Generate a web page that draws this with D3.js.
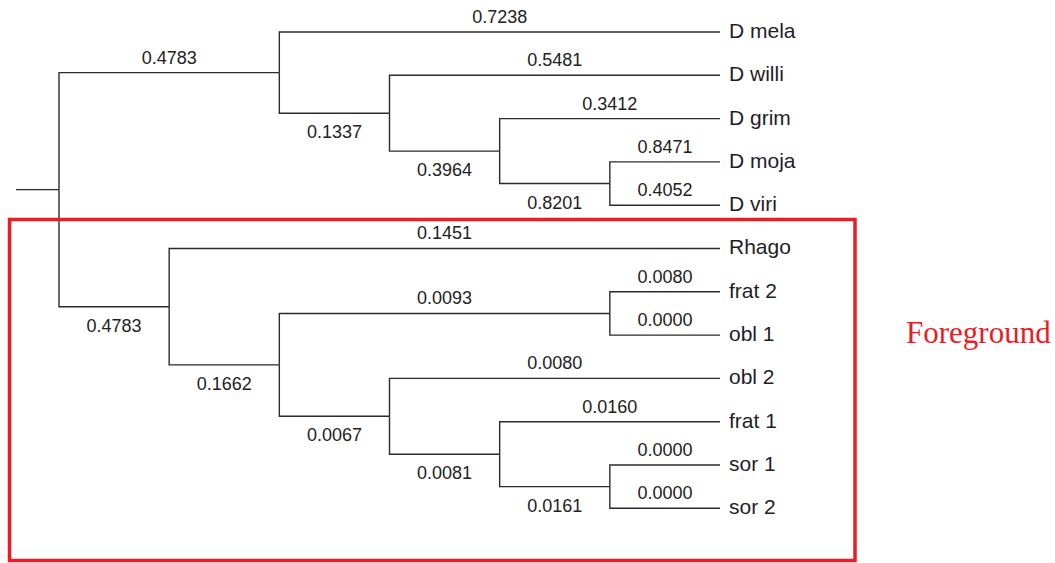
<!DOCTYPE html>
<html>
<head>
<meta charset="utf-8">
<script src="https://cdn.jsdelivr.net/npm/d3@7"></script>
<style>
  html, body { margin: 0; padding: 0; background: #fff; }
  svg { display: block; }
</style>
</head>
<body>
<svg id="tree" width="1055" height="563"></svg>
<script>
  // tree as a parent table, listed in draw order (top child first)
  const nodeIds = ["n0", "n1", "D mela", "n2", "D willi", "n3", "D grim", "n4", "D moja", "D viri",
    "n5", "Rhago", "n6", "n7", "frat 2", "obl 1", "n8", "obl 2", "n9", "frat 1", "n10", "sor 1", "sor 2"];
  const parentIds = ["", "n0", "n1", "n1", "n2", "n2", "n3", "n3", "n4", "n4",
    "n0", "n5", "n5", "n6", "n7", "n7", "n6", "n8", "n8", "n9", "n9", "n10", "n10"];
  const branchLabels = ["", "0.4783", "0.7238", "0.1337", "0.5481", "0.3964", "0.3412", "0.8201", "0.8471", "0.4052",
    "0.4783", "0.1451", "0.1662", "0.0093", "0.0080", "0.0000", "0.0067", "0.0080", "0.0081", "0.0160", "0.0161", "0.0000", "0.0000"];
  const boxTitle = "Foreground";

  const svg = d3.select("#tree");
  const lineColor = "#2b2b2b";

  const table = nodeIds.map((id, i) => ({ id: id, parent: parentIds[i] || null, label: branchLabels[i] }));
  const root = d3.stratify().id(d => d.id).parentId(d => d.parent)(table);

  // leaves share one column; internal nodes step left by height
  // cluster pads half a step at each end, so shift up by half a step
  const leafTop = 32, leafStep = 43.3;
  const rootX = 59, leafX = 720;
  const nLeaves = root.leaves().length;
  d3.cluster()
    .size([leafStep * nLeaves, leafX - rootX])
    .separation(() => 1)(root);

  const g = svg.append("g").attr("transform", `translate(${rootX},${leafTop - leafStep / 2})`);

  // root stub
  g.append("line")
    .attr("x1", -43).attr("x2", 0)
    .attr("y1", root.x).attr("y2", root.x)
    .attr("stroke", lineColor).attr("stroke-width", 1.4);

  // elbow links
  g.append("g").selectAll("path")
    .data(root.descendants().filter(d => d.parent))
    .join("path")
    .attr("fill", "none")
    .attr("stroke", lineColor).attr("stroke-width", 1.4)
    .attr("d", d => `M${d.parent.y},${d.parent.x}V${d.x}H${d.y}`);

  // branch length labels: below the line for a lower internal child, else above
  g.append("g").selectAll("text")
    .data(root.descendants().filter(d => d.parent))
    .join("text")
    .attr("x", d => (d.parent.y + d.y) / 2)
    .attr("y", d => {
      const lower = d.children && d.parent.children[d.parent.children.length - 1] === d;
      return lower ? d.x + 25 : d.x - 9;
    })
    .attr("text-anchor", "middle")
    .attr("font-family", "Liberation Sans, Arial, sans-serif")
    .attr("font-size", 18)
    .attr("fill", "#222")
    .text(d => d.data.label);

  // leaf names
  g.append("g").selectAll("text")
    .data(root.leaves())
    .join("text")
    .attr("x", d => d.y + 9)
    .attr("y", d => d.x + 6)
    .attr("font-family", "Liberation Sans, Arial, sans-serif")
    .attr("font-size", 21)
    .attr("fill", "#1e1e28")
    .text(d => d.id);

  // highlight box around the lower clade
  svg.append("rect")
    .attr("x", 9.5).attr("y", 219.5)
    .attr("width", 845.5).attr("height", 341)
    .attr("fill", "none")
    .attr("stroke", "#ec1c24").attr("stroke-width", 3.5);

  svg.append("text")
    .attr("x", 906).attr("y", 343)
    .attr("font-family", "Liberation Serif, Times New Roman, serif")
    .attr("font-size", 31)
    .attr("fill", "#ec1c24")
    .text(boxTitle);
</script>
</body>
</html>
